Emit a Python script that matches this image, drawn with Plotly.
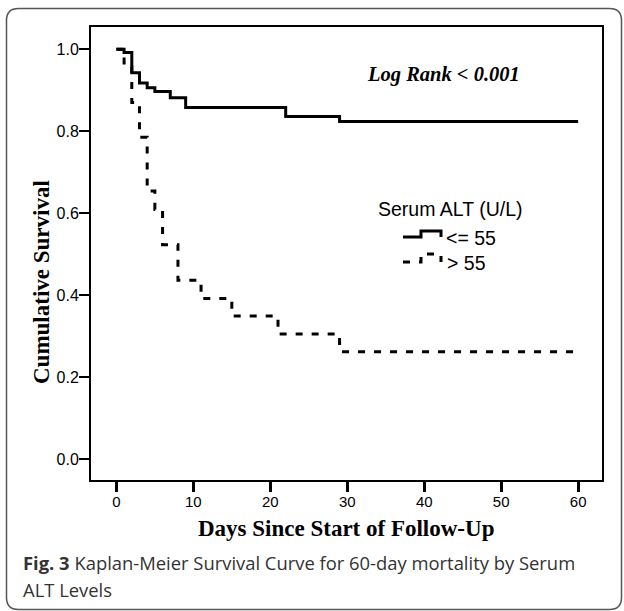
import plotly.graph_objects as go

# ---- data ----
solid_days = [0, 1, 2, 3, 4, 5, 7, 9, 22, 29, 60]
solid_surv = [1.0, 0.992, 0.943, 0.918, 0.906, 0.897, 0.882, 0.858, 0.836, 0.824, 0.824]

dashed_days = [0, 1, 2, 3, 4, 5, 6, 8, 11, 15, 21, 29, 60]
dashed_surv = [1.0, 0.957, 0.870, 0.785, 0.654, 0.609, 0.523, 0.436, 0.392, 0.349, 0.305, 0.262, 0.262]

x_ticks = [0, 10, 20, 30, 40, 50, 60]
y_ticks = [0.0, 0.2, 0.4, 0.6, 0.8, 1.0]
y_tick_labels = ["0.0", "0.2", "0.4", "0.6", "0.8", "1.0"]

legend_title = "Serum ALT (U/L)"
group_labels = ["<= 55", "> 55"]
x_title = "Days Since Start of Follow-Up"
y_title = "Cumulative Survival"
stat_text = "Log Rank < 0.001"
caption_1 = "<b>Fig. 3</b> Kaplan-Meier Survival Curve for 60-day mortality by Serum"
caption_2 = "ALT Levels"

W, H = 624, 611


def px(x):
    return x / W


def py(y):
    return 1 - y / H


# plot area in pixels
L, R, T, B = 91, 602, 27, 480

fig = go.Figure()
fig.add_trace(go.Scatter(
    x=dashed_days, y=dashed_surv, mode="lines", line_shape="hv",
    line=dict(color="black", width=3, dash="7px,9px"),
    name=group_labels[1], showlegend=False, hoverinfo="x+y"))
fig.add_trace(go.Scatter(
    x=solid_days, y=solid_surv, mode="lines", line_shape="hv",
    line=dict(color="black", width=3),
    name=group_labels[0], showlegend=False, hoverinfo="x+y"))

sans = "Liberation Sans, Arial, sans-serif"
serif = "Liberation Serif, Times New Roman, serif"
serif_bold = dict(family=serif, size=23, color="black")

fig.update_layout(
    width=W, height=H,
    margin=dict(l=0, r=0, t=0, b=0),
    paper_bgcolor="white", plot_bgcolor="white",
    xaxis=dict(domain=[px(L), px(R)], range=[-3.3, 63.1],
               tickvals=x_ticks, ticks="outside", ticklen=10, tickwidth=2.5,
               tickcolor="black", showline=True, linecolor="black", linewidth=2,
               mirror=True, showgrid=False, zeroline=False, ticklabelstandoff=-3,
               tickfont=dict(family=sans, size=15, color="black")),
    yaxis=dict(domain=[py(B), py(T)], range=[-0.0513, 1.0544],
               tickvals=y_ticks, ticktext=y_tick_labels, ticks="outside",
               ticklen=10, tickwidth=2, tickcolor="black", showline=True,
               linecolor="black", linewidth=2, mirror=True, showgrid=False,
               zeroline=False, ticklabelstandoff=-3,
               tickfont=dict(family=sans, size=16, color="black")),
    showlegend=False,
)

ann = []
ann.append(dict(text="<b>" + x_title + "</b>", x=px(346), y=py(528), xref="paper",
                yref="paper", showarrow=False, xanchor="center", yanchor="middle",
                font=serif_bold))
ann.append(dict(text="<b>" + y_title + "</b>", x=px(41), y=py(282), xref="paper",
                yref="paper", showarrow=False, xanchor="center", yanchor="middle",
                textangle=-90, font=serif_bold))
ann.append(dict(text="<b><i>" + stat_text + "</i></b>", x=px(443), y=py(75),
                xref="paper", yref="paper", showarrow=False, xanchor="center",
                yanchor="middle", font=dict(family=serif, size=20.5, color="black")))
leg_font = dict(family=sans, size=19.5, color="black")
ann.append(dict(text=legend_title, x=px(450), y=py(209), xref="paper", yref="paper",
                showarrow=False, xanchor="center", yanchor="middle", font=leg_font))
ann.append(dict(text=group_labels[0], x=px(444), y=py(238), xref="paper", yref="paper",
                showarrow=False, xanchor="left", yanchor="middle", font=leg_font))
ann.append(dict(text=group_labels[1], x=px(445), y=py(263), xref="paper", yref="paper",
                showarrow=False, xanchor="left", yanchor="middle", font=leg_font))
cap_font = dict(family="Open Sans, Noto Sans, sans-serif", size=18.4, color="#333333")
ann.append(dict(text=caption_1, x=px(21), y=py(562), xref="paper", yref="paper",
                showarrow=False, xanchor="left", yanchor="middle", font=cap_font))
ann.append(dict(text=caption_2, x=px(21), y=py(589), xref="paper", yref="paper",
                showarrow=False, xanchor="left", yanchor="middle", font=cap_font))
fig.update_layout(annotations=ann)


def path(points):
    s = "M %f,%f" % (px(points[0][0]), py(points[0][1]))
    for p in points[1:]:
        s += " L %f,%f" % (px(p[0]), py(p[1]))
    return s


shapes = []
# legend step icons
shapes.append(dict(type="path", xref="paper", yref="paper",
                   path=path([(403, 237), (421, 237), (421, 231), (441, 231), (441, 237)]),
                   line=dict(color="black", width=3)))
shapes.append(dict(type="path", xref="paper", yref="paper",
                   path=path([(403, 262), (421, 262), (421, 254), (441, 254), (441, 262)]),
                   line=dict(color="black", width=3, dash="7px,9px")))
# outer rounded frame
x0, x1, y0, y1, r = 6.5, 621.5, 8.5, 609.5, 12
rp = ("M %f,%f L %f,%f Q %f,%f %f,%f L %f,%f Q %f,%f %f,%f L %f,%f Q %f,%f %f,%f "
      "L %f,%f Q %f,%f %f,%f Z") % (
    px(x0 + r), py(y0), px(x1 - r), py(y0), px(x1), py(y0), px(x1), py(y0 + r),
    px(x1), py(y1 - r), px(x1), py(y1), px(x1 - r), py(y1),
    px(x0 + r), py(y1), px(x0), py(y1), px(x0), py(y1 - r),
    px(x0), py(y0 + r), px(x0), py(y0), px(x0 + r), py(y0))
shapes.append(dict(type="path", xref="paper", yref="paper", path=rp,
                   line=dict(color="#555555", width=1.5), layer="below"))
fig.update_layout(shapes=shapes)

fig.write_html(
    "out.html",
    config={"displayModeBar": False},
    post_script="document.body.style.margin='0px';document.body.style.overflow='hidden';",
)
